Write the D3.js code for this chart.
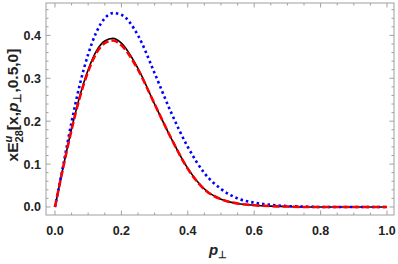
<!DOCTYPE html>
<html>
<head>
<meta charset="utf-8">
<script src="https://cdn.jsdelivr.net/npm/d3@7"></script>
<style>
  body { margin: 0; background: #fff; }
  text { font-family: "Liberation Sans", Arial, sans-serif; font-weight: bold; }
</style>
</head>
<body>
<div class="chart"></div>
<script>
// p_perp grid
const pValues = [0, 0.025, 0.05, 0.075, 0.1, 0.125, 0.15, 0.175, 0.2, 0.25, 0.3, 0.35, 0.4, 0.45, 0.5, 0.55, 0.6, 0.65, 0.7, 0.75, 0.8, 0.9, 1.0];

// solid black
const blackValues = [0, 0.094, 0.182, 0.259, 0.320, 0.364, 0.387, 0.393, 0.382, 0.323, 0.240, 0.160, 0.090, 0.042, 0.018, 0.008, 0.004, 0.002, 0.001, 0, 0, 0, 0];
// red dashed
const redValues = [0, 0.093, 0.180, 0.256, 0.316, 0.359, 0.382, 0.388, 0.377, 0.320, 0.240, 0.160, 0.089, 0.041, 0.018, 0.008, 0.004, 0.002, 0.001, 0, 0, 0, 0];
// blue dotted
const blueValues = [0, 0.098, 0.198, 0.286, 0.356, 0.408, 0.440, 0.452, 0.448, 0.400, 0.312, 0.220, 0.140, 0.079, 0.042, 0.020, 0.010, 0.005, 0.002, 0.001, 0, 0, 0];

const xTicks = [0, 0.2, 0.4, 0.6, 0.8, 1.0];
const yTicks = [0, 0.1, 0.2, 0.3, 0.4];

const width = 398, height = 264;
const mLeft = 46, mRight = 394, mTop = 3, mBottom = 215;

const svg = d3.select('.chart').append('svg')
  .attr('width', width)
  .attr('height', height);

const x = d3.scaleLinear().domain([-0.027, 1.021]).range([mLeft, mRight]);
const y = d3.scaleLinear().domain([-0.0187, 0.4755]).range([mBottom, mTop]);

// frame
const frameColor = '#a0a0a0';
svg.append('rect')
  .attr('x', mLeft).attr('y', mTop)
  .attr('width', mRight - mLeft).attr('height', mBottom - mTop)
  .style('fill', 'none')
  .style('stroke', frameColor)
  .style('stroke-width', 1);

// ticks, major + minor, pointing inward on all four sides
const xMinor = d3.range(0, 1.0001, 0.05);
const yMinor = d3.range(0, 0.4601, 0.02);

function isMajor(v, step) { return Math.abs(v / step - Math.round(v / step)) < 1e-6; }

xMinor.forEach(v => {
  const len = isMajor(v, 0.2) ? 4.5 : 2.5;
  svg.append('line')
    .attr('x1', x(v)).attr('x2', x(v))
    .attr('y1', mBottom).attr('y2', mBottom - len)
    .style('stroke', frameColor);
  svg.append('line')
    .attr('x1', x(v)).attr('x2', x(v))
    .attr('y1', mTop).attr('y2', mTop + len)
    .style('stroke', frameColor);
});

yMinor.forEach(v => {
  const len = isMajor(v, 0.1) ? 4.5 : 2.5;
  svg.append('line')
    .attr('x1', mLeft).attr('x2', mLeft + len)
    .attr('y1', y(v)).attr('y2', y(v))
    .style('stroke', frameColor);
  svg.append('line')
    .attr('x1', mRight).attr('x2', mRight - len)
    .attr('y1', y(v)).attr('y2', y(v))
    .style('stroke', frameColor);
});

// tick labels
svg.selectAll('.xlab').data(xTicks).enter().append('text')
  .attr('class', 'xlab')
  .attr('x', d => x(d))
  .attr('y', 235)
  .attr('text-anchor', 'middle')
  .style('font-size', '12.5px')
  .style('fill', '#222')
  .text(d => d.toFixed(1));

svg.selectAll('.ylab').data(yTicks).enter().append('text')
  .attr('class', 'ylab')
  .attr('x', mLeft - 5)
  .attr('y', d => y(d) + 4.5)
  .attr('text-anchor', 'end')
  .style('font-size', '12.5px')
  .style('fill', '#222')
  .text(d => d.toFixed(1));

// axis titles
const xt = svg.append('text')
  .attr('x', 218)
  .attr('y', 255)
  .attr('text-anchor', 'middle')
  .style('font-size', '15px')
  .style('fill', '#222');
xt.append('tspan').style('font-style', 'italic').text('p');
xt.append('tspan').style('font-size', '10px').attr('dy', 3).text('⊥');

const yt = svg.append('text')
  .attr('transform', 'translate(18,105) rotate(-90)')
  .attr('text-anchor', 'middle')
  .style('font-size', '15.5px')
  .style('fill', '#222');
yt.append('tspan').text('xE');
yt.append('tspan').style('font-size', '11px').style('font-style', 'italic').attr('dy', -6).text('u');
yt.append('tspan').style('font-size', '11px').attr('dx', -6.7).attr('dy', 11).text('28');
yt.append('tspan').attr('dy', -5).text('[x,');
yt.append('tspan').style('font-style', 'italic').text('p');
yt.append('tspan').style('font-size', '11px').attr('dy', 3).text('⊥');
yt.append('tspan').attr('dy', -3).text(',0.5,0]');

// curves
const line = d3.line()
  .x((d, i) => x(pValues[i]))
  .y(d => y(d))
  .curve(d3.curveMonotoneX);

svg.append('path')
  .datum(blackValues)
  .attr('d', line)
  .style('fill', 'none')
  .style('stroke', '#000')
  .style('stroke-width', 1.6);

svg.append('path')
  .datum(blueValues)
  .attr('d', line)
  .style('fill', 'none')
  .style('stroke', '#0000ff')
  .style('stroke-width', 2.6)
  .style('stroke-dasharray', '2.5,3');

svg.append('path')
  .datum(redValues)
  .attr('d', line)
  .style('fill', 'none')
  .style('stroke', '#ff0000')
  .style('stroke-width', 2.6)
  .style('stroke-dasharray', '7,3');
</script>
</body>
</html>
